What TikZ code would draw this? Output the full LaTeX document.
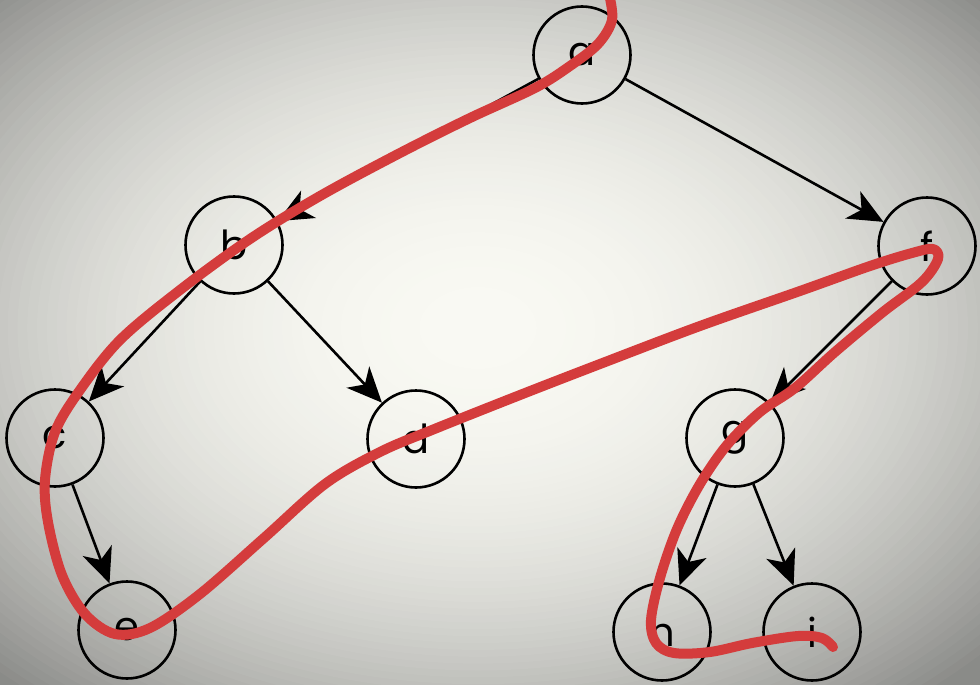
\documentclass[tikz,border=0pt]{standalone}
\usepackage{fontspec}
\setmainfont{Poppins}
\usetikzlibrary{arrows.meta}

\definecolor{bgIn}{RGB}{249,249,243}
\definecolor{bgOut}{RGB}{138,139,136}
\definecolor{pathred}{RGB}{212,60,60}

\tikzset{
  treenode/.style={circle, draw=black, line width=2.6pt, minimum size=97pt,
    inner sep=0pt, font=\fontsize{40}{40}\selectfont},
  edge/.style={draw=black, line width=2.6pt,
    -{Stealth[length=35pt, width=31pt, inset=10pt]}},
  walk/.style={draw=pathred, line width=10pt, line cap=round, line join=round}
}

\begin{document}
\begin{tikzpicture}[x=1pt, y=-1pt]
  \useasboundingbox (0,0) rectangle (980,685);
  % vignette: nested ellipses, darker towards the rim
  \begin{scope}
    \clip (0,0) rectangle (980,685);
    \fill[bgOut] (0,0) rectangle (980,685);
    \foreach \r in {74,73,...,0} {
      \pgfmathsetmacro{\t}{max(0,min(100,100*(1-(\r/71)^2.2)))}
      \fill[bgIn!\t!bgOut] (478,328) ellipse [x radius={\r*9.8}, y radius={\r*6.85}];
    }
  \end{scope}

  % tree nodes
  \node[treenode] (a) at (582,55)  {a};
  \node[treenode] (b) at (234,245) {b};
  \node[treenode] (c) at (55,438)  {c};
  \node[treenode] (d) at (416,439) {d};
  \node[treenode] (e) at (127,630) {e};
  \node[treenode] (f) at (927,246) {f};
  \node[treenode] (g) at (735,438) {g};
  \node[treenode] (h) at (662,632) {h};
  \node[treenode] (i) at (812,632) {i};

  % parent -> child edges
  \draw[edge] (a) -- (b);
  \draw[edge] (a) -- (f);
  \draw[edge] (b) -- (c);
  \draw[edge] (b) -- (d);
  \draw[edge] (c) -- (e);
  \draw[edge] (f) -- (g);
  \draw[edge] (g) -- (h);
  \draw[edge] (g) -- (i);

  % hand-drawn traversal stroke
  \draw[walk] plot[smooth, tension=0.55] coordinates {
    (609,-6) (612,20) (598,44) (570,66) (535,88) (470,118) (400,153)
    (320,196) (250,239) (180,290) (120,340) (80,390) (55,432) (45,480)
    (48,522) (62,575) (85,614) (115,634) (150,628) (200,594) (264,538)
    (325,484) (380,452) (432,430) (520,395) (600,364) (700,326)
    (800,291) (870,266) (912,253) (933,249) (938,259) (922,282)
    (883,312) (835,352) (795,388) (760,412) (727,445) (700,484)
    (677,529) (660,578) (651,620) (656,643) (674,653) (710,652)
    (752,643) (798,636) (822,638) (833,647)};
\end{tikzpicture}
\end{document}
